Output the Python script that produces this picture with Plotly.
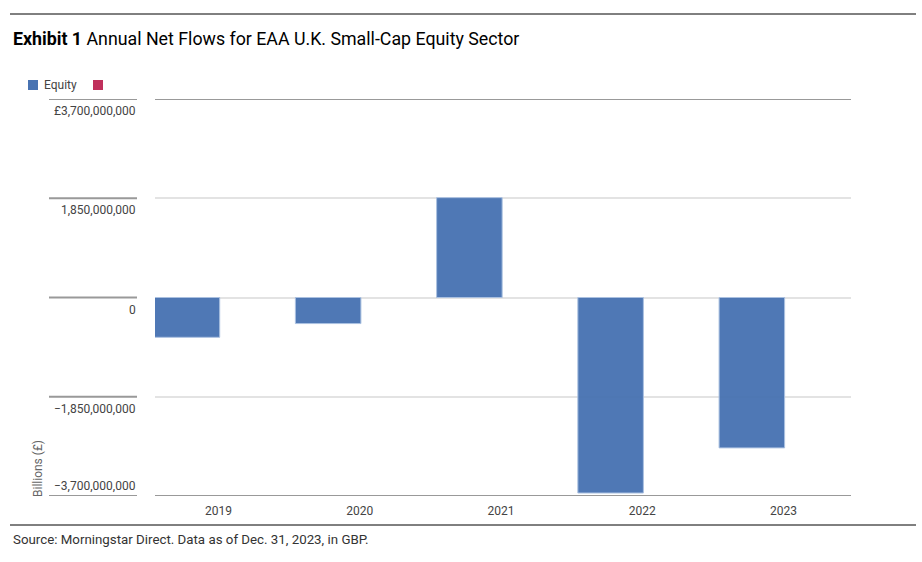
import plotly.graph_objects as go

years = ["2019", "2020", "2021", "2022", "2023"]
equity = [-0.742e9, -0.486e9, 1.861e9, -3.644e9, -2.803e9]
other = [None, None, None, None, None]
tick_vals = [3.7e9, 1.85e9, 0, -1.85e9, -3.7e9]
tick_text = ["£3,700,000,000", "1,850,000,000", "0", "−1,850,000,000", "−3,700,000,000"]
legend_names = ["Equity", ""]
legend_colors = ["#4873b2", "#c0305c"]

FONT = "Roboto, sans-serif"
W, H = 922, 562
L, R, T, B = 155, 71, 99, 66

def px_x(x):
    return (x - L) / (W - L - R)

def px_y(y):
    return (H - B - y) / (H - T - B)

fig = go.Figure()
fig.add_trace(go.Bar(
    x=years, y=equity, name=legend_names[0],
    marker=dict(color=legend_colors[0], line=dict(color="#a8bfe0", width=1)),
    opacity=0.96, width=0.464, offset=-0.456,
))
fig.add_trace(go.Bar(
    x=years, y=other, name=legend_names[1],
    marker=dict(color=legend_colors[1]),
))

shapes = []
annotations = []
# left short tick rules and labels
for v, t in zip(tick_vals, tick_text):
    shapes.append(dict(type="line", xref="paper", yref="y",
                       x0=px_x(49), x1=px_x(137), y0=v, y1=v,
                       line=dict(color="#999999", width=2)))
    ys = 10 if v == tick_vals[-1] else -12
    annotations.append(dict(xref="paper", yref="y", x=px_x(138), y=v,
                            xanchor="right", yanchor="middle", yshift=ys,
                            text=t, showarrow=False,
                            font=dict(family=FONT, size=12, color="#444444")))
# top and bottom darker lines in plot
for v in (tick_vals[0], tick_vals[-1]):
    shapes.append(dict(type="line", xref="paper", yref="y", x0=0, x1=1,
                       y0=v, y1=v, line=dict(color="#999999", width=2)))
# page rules
for yy in (14, 525):
    shapes.append(dict(type="line", xref="paper", yref="paper",
                       x0=px_x(10), x1=px_x(916), y0=px_y(yy), y1=px_y(yy),
                       line=dict(color="#000000", width=1)))

# manual legend
sq_x = [28, 93]
for xx, col in zip(sq_x, legend_colors):
    shapes.append(dict(type="rect", xref="paper", yref="paper",
                       x0=px_x(xx), x1=px_x(xx + 10), y0=px_y(90), y1=px_y(80),
                       fillcolor=col, line=dict(width=0)))
annotations.append(dict(xref="paper", yref="paper", x=px_x(42), y=px_y(85),
                        xanchor="left", yanchor="middle", showarrow=False,
                        text=legend_names[0],
                        font=dict(family=FONT, size=12, color="#444444")))

annotations.append(dict(xref="paper", yref="paper", x=px_x(11), y=px_y(38),
                        xanchor="left", yanchor="middle", showarrow=False,
                        text="<b>Exhibit 1</b> Annual Net Flows for EAA U.K. Small-Cap Equity Sector",
                        font=dict(family=FONT, size=17.8, color="#000000")))
annotations.append(dict(xref="paper", yref="paper", x=px_x(11), y=px_y(539),
                        xanchor="left", yanchor="middle", showarrow=False,
                        text="Source: Morningstar Direct. Data as of Dec. 31, 2023, in GBP.",
                        font=dict(family=FONT, size=13.3, color="#333333")))
annotations.append(dict(xref="paper", yref="paper", x=px_x(38), y=px_y(469),
                        xanchor="center", yanchor="middle", showarrow=False,
                        textangle=-90, text="Billions (£)",
                        font=dict(family=FONT, size=12, color="#666666")))

fig.update_layout(
    width=W, height=H,
    margin=dict(l=L, r=R, t=T, b=B),
    paper_bgcolor="white", plot_bgcolor="white",
    barmode="group",
    font=dict(family=FONT, size=12, color="#444444"),
    showlegend=False,
    shapes=shapes, annotations=annotations,
    xaxis=dict(type="category", range=[-0.45, 4.478], showgrid=False,
               showline=False, ticks="", ticklabelstandoff=6,
               tickfont=dict(family=FONT, size=12, color="#444444"),
               fixedrange=True),
    yaxis=dict(range=[-3.7e9, 3.7e9], tickvals=tick_vals, showticklabels=False,
               showgrid=True, gridcolor="#e3e3e3", gridwidth=1.5, zeroline=False,
               showline=False, fixedrange=True),
)

fig.write_html("out.html", config={"displayModeBar": False},
               post_script="document.body.style.margin='0';")
